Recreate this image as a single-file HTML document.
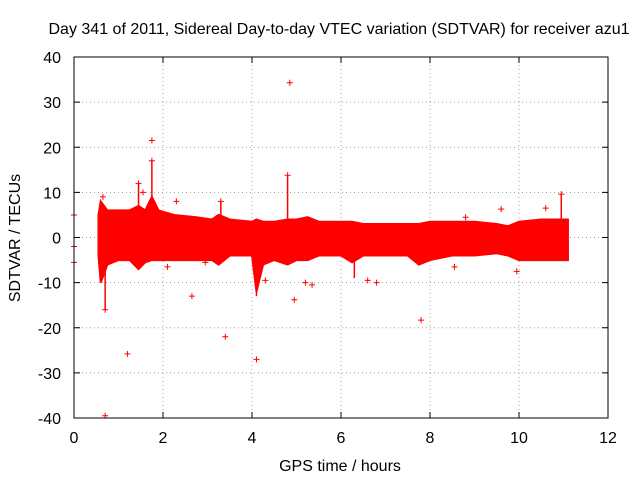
<!DOCTYPE html>
<html><head><meta charset="utf-8"><style>
body{margin:0;background:#fff}
svg text{font-family:"Liberation Sans",sans-serif;font-size:16px;fill:#000}
</style></head><body>
<svg id="chart" width="640" height="480" viewBox="0 0 640 480" xmlns="http://www.w3.org/2000/svg">
<rect width="640" height="480" fill="#fff"/>
<text x="339" y="34" text-anchor="middle">Day 341 of 2011, Sidereal Day-to-day VTEC variation (SDTVAR) for receiver azu1</text>
<text x="340" y="471" text-anchor="middle">GPS time / hours</text>
<text transform="translate(20,238) rotate(-90)" text-anchor="middle">SDTVAR / TECUs</text>
<g id="grid"></g><g id="marks"></g><g id="axes"></g>
</svg>
<script>
const xTicks=[0,2,4,6,8,10,12];
const yTicks=[-40,-30,-20,-10,0,10,20,30,40];
const bandTimes=[0.55,0.6,0.75,1.0,1.25,1.45,1.6,1.75,1.9,2.25,2.75,3.1,3.25,3.5,4.0,4.1,4.25,4.5,4.8,5.0,5.25,5.5,6.0,6.25,6.5,7.0,7.5,7.75,8.0,8.5,9.0,9.5,9.75,10.0,10.5,11.1];
const bandHigh=[5,8,6,6,6,7,6,9,6,5,4.5,4,5,4,3.5,4,3.5,3.5,4,4,4.5,3.5,3.5,3.5,3,3,3,3,3.5,3.5,3.5,3,2.5,3.5,4,4];
const bandLow=[-4,-10,-6,-5,-5,-7,-5.5,-5,-5,-5,-5,-5,-6,-4,-4,-12,-6,-5,-6,-5,-5,-4,-4,-5.5,-4,-4,-4,-6,-5,-4,-4,-3.5,-4,-5,-5,-5];
const spikeTimes=[0.7,1.45,1.75,3.3,4.1,4.8,6.3,10.95];
const spikeValues=[-16,12,17,8,-13,13.5,-9,9.6];
const outT=[0,0,0,0.7,1.2,1.75,1.75,1.45,2.65,3.4,3.3,4.1,4.85,4.8,4.95,7.8,10.95,0.7,2.1,2.3,4.3,6.6,6.8,8.55,9.95,10.6,9.6,1.55,5.35,0.65,8.8,2.95,5.2];
const outV=[5,-2,-5.5,-39.5,-25.8,21.5,17,12,-13,-22,8,-27,34.3,13.8,-13.8,-18.3,9.6,-16,-6.5,8,-9.5,-9.5,-10,-6.5,-7.5,6.5,6.3,10,-10.5,9,4.5,-5.5,-10];
const X0=74,X1=608,Y0=418,Y1=57;
const xs=v=>X0+(v-0)/12*(X1-X0);
const ys=v=>Y0-(v+40)/80*(Y0-Y1);
const NS="http://www.w3.org/2000/svg";
function mk(tag,parent,attrs){const e=document.createElementNS(NS,tag);for(const k in attrs)e.setAttribute(k,attrs[k]);parent.appendChild(e);return e;}
const grid=document.getElementById('grid'),marks=document.getElementById('marks'),axes=document.getElementById('axes');
xTicks.forEach(t=>{
 if(t>0&&t<12){const g=mk('line',grid,{x1:xs(t),x2:xs(t),y1:Y1,y2:Y0,stroke:'#a0a0a0','stroke-dasharray':'1,3'});
 
 }
 mk('line',axes,{x1:xs(t),x2:xs(t),y1:Y0,y2:Y0-6,stroke:'#000'});
 mk('line',axes,{x1:xs(t),x2:xs(t),y1:Y1,y2:Y1+6,stroke:'#000'});
 const l=mk('text',axes,{x:xs(t),y:Y0+25,'text-anchor':'middle'});l.textContent=t;
 
 
});
yTicks.forEach(t=>{
 if(t>-40&&t<40){const g=mk('line',grid,{x1:X0,x2:X1,y1:ys(t),y2:ys(t),stroke:'#a0a0a0','stroke-dasharray':'1,3'});
 
 }
 mk('line',axes,{x1:X0,x2:X0+6,y1:ys(t),y2:ys(t),stroke:'#000'});
 mk('line',axes,{x1:X1,x2:X1-6,y1:ys(t),y2:ys(t),stroke:'#000'});
 const l=mk('text',axes,{x:X0-13,y:ys(t)+6,'text-anchor':'end'});l.textContent=t;
 
 
});
const frame=mk('rect',axes,{x:X0,y:Y1,width:X1-X0,height:Y0-Y1,fill:'none',stroke:'#000'});


let pts=bandTimes.map((t,i)=>xs(t)+','+ys(bandHigh[i]));
for(let i=bandTimes.length-1;i>=0;i--)pts.push(xs(bandTimes[i])+','+ys(bandLow[i]));
const band=mk('polygon',marks,{points:pts.join(' '),fill:'#ff0000',stroke:'#ff0000','stroke-width':2});


spikeTimes.forEach((t,i)=>{
 const s=mk('line',marks,{x1:xs(t),x2:xs(t),y1:ys(0),y2:ys(spikeValues[i]),stroke:'#ff0000','stroke-width':1.5});
 
 
});
outT.forEach((t,i)=>{
 const x=xs(t),y=ys(outV[i]);
 const p=mk('path',marks,{d:`M${x-3},${y}H${x+3}M${x},${y-3}V${y+3}`,stroke:'#ff0000','stroke-width':1});
 
 
});
</script>
</body></html>
